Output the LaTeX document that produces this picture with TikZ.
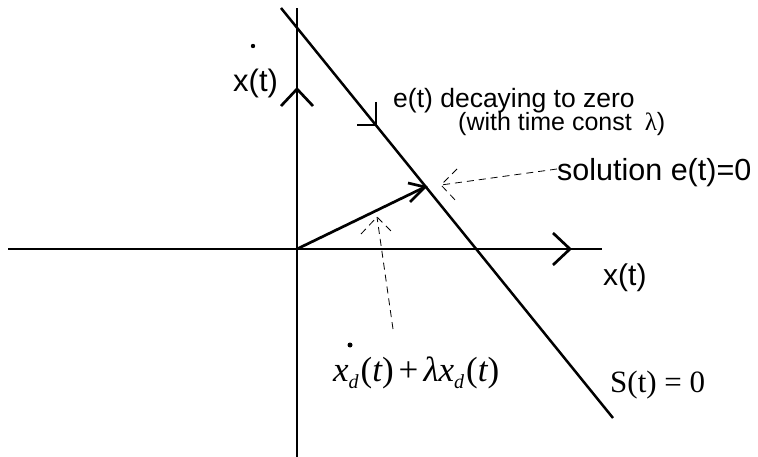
\documentclass[tikz,border=0pt]{standalone}
\usepackage{fontspec}
\setmainfont{Liberation Sans}
\newfontfamily\tnr{Liberation Serif}
\begin{document}
\begin{tikzpicture}[x=1pt,y=-1pt,
  axis/.style={line width=2.7pt},
  sline/.style={line width=2.5pt},
  dasharrow/.style={line width=0.8pt, dash pattern=on 7pt off 5pt},
  lbl/.style={inner sep=0pt, anchor=base west}]
\useasboundingbox (0,0) rectangle (758,457);
% axes
\coordinate (O) at (297,249);
\coordinate (xl) at (8,249);
\coordinate (xr) at (602,249);
\coordinate (yt) at (297,8);
\coordinate (yb) at (297,457);
\draw[axis] (xl) -- (xr);
\draw[axis] (yb) -- (yt);
\coordinate (xa) at (570,249);
\coordinate (ya) at (297,89);
\draw[axis] (xa) ++(-17,-16) -- (xa) -- ++(-17,16);
\draw[axis] (ya) ++(-16,17) -- (ya) -- ++(16,17);
% sliding line S(t)=0
\coordinate (s1) at (281,8);
\coordinate (s2) at (613,418);
\draw[sline] (s1) -- (s2);
\coordinate (tk) at (376,125);
\draw[sline] (tk) ++(0,-23) -- (tk) -- ++(-19,0);
% vector
\coordinate (vt) at (425,187);
\draw[axis] (O) -- (vt);
\draw[axis] (vt) ++(-17,-4) -- (vt) -- ++(-15,15);
% dashed pointers
\coordinate (sa) at (557,169);
\coordinate (sb) at (441,185);
\draw[dasharrow] (sa) -- (sb);
\draw[dasharrow] (sb) ++(16,-16) -- (sb) -- ++(16,17);
\coordinate (fa) at (393,329);
\coordinate (fb) at (377,217);
\draw[dasharrow] (fa) -- (fb);
\draw[dasharrow] (fb) ++(-16,17) -- (fb) -- ++(17,17);
% labels
\node[lbl] (xdot) at (233,92) {\fontsize{31}{36}\selectfont x(t)};
\fill (253,46) circle (2.2);
\node[lbl] (xlab) at (603,285) {\fontsize{30}{36}\selectfont x(t)};
\node[lbl] (e1) at (393,108) {\fontsize{26.5}{30}\selectfont e(t) decaying to zero};
\node[lbl] (e2) at (458,131) {\fontsize{25}{30}\selectfont (with time const \kern6pt{\tnr λ})};
\node[lbl] (sol) at (557,181) {\fontsize{30.5}{36}\selectfont solution e(t)=0};
\node[lbl] (S) at (610,392) {\tnr\fontsize{31}{36}\selectfont S(t) = 0};
\node[lbl] (fm) at (333,381) {\tnr\fontsize{35}{40}\selectfont\itshape x\raisebox{-7pt}{\fontsize{20}{24}\selectfont d}\kern2pt{\upshape(}t{\upshape)}\kern5pt{\upshape+}\kern5pt λx\raisebox{-7pt}{\fontsize{20}{24}\selectfont d}\kern2pt{\upshape(}t{\upshape)}};
\fill (350,345) circle (2.5);
\end{tikzpicture}
\end{document}
